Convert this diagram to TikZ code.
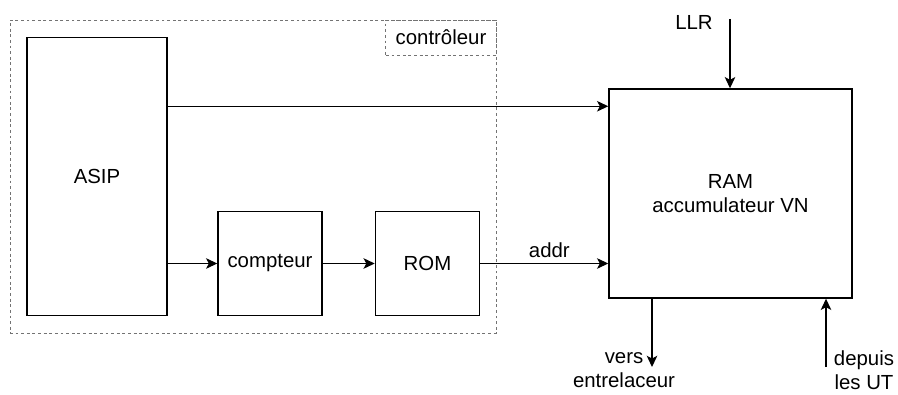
\documentclass[tikz,border=0pt]{standalone}
\usepackage{fontspec}
\setmainfont{Liberation Sans}
\usetikzlibrary{positioning, arrows.meta, calc, fit}

\begin{document}
\begin{tikzpicture}[x=0.025cm, y=-0.025cm, font=\fontsize{14.5}{17}\selectfont,
  bloc/.style={draw, line width=1pt, inner sep=0pt, align=center},
  cadre/.style={draw=black!55, dash pattern=on 2pt off 2pt, line width=0.7pt, inner sep=0pt},
  fleche/.style={line width=0.9pt, -{Stealth[length=8pt, width=7.5pt, inset=2pt]}}]
\useasboundingbox (0,0) rectangle (898,394);
% controleur
\coordinate (ctrlNO) at (10,20);
\coordinate (ctrlSE) at (496,333);
\node[cadre, fit=(ctrlNO)(ctrlSE)] (ctrl) {};
\node[cadre, anchor=north east, minimum width=2.75cm, minimum height=0.875cm] (ctrlnom) at (ctrl.north east) {contrôleur};
% blocs
\node[bloc, minimum width=3.5cm, minimum height=6.95cm] (asip) at (97,176.5) {ASIP};
\node[bloc, minimum width=2.6cm, minimum height=2.6cm] (compteur) at (270,263.5) {compteur};
\node[bloc, minimum width=2.6cm, minimum height=2.6cm, right=1.3cm of compteur] (rom) {ROM};
\node[bloc, minimum width=6.075cm, minimum height=5.225cm] (ram) at (730.5,193.5) {RAM\\accumulateur VN};
% liaisons
\draw[fleche] ($(asip.north east)+(0,69.5)$) coordinate (asiphaut) -- (asiphaut -| ram.west);
\draw[fleche] (asip.east |- compteur) -- (compteur);
\draw[fleche] (compteur) -- (rom);
\draw[fleche] (rom) -- (rom -| ram.west) node[pos=0.54, above] (addr) {addr};
% entrees / sorties
\node (llr) at (694,22) {LLR};
\coordinate (llrhaut) at (730,19);
\draw[fleche] (llrhaut) -- (llrhaut |- ram.north);
\coordinate (versbas) at (652,367);
\draw[fleche] (versbas |- ram.south) -- (versbas);
\node[align=center] (vers) at (624,370) {vers\\entrelaceur};
\coordinate (depuisbas) at (826,367);
\draw[fleche] (depuisbas) -- (depuisbas |- ram.south);
\node[align=center] (depuis) at (864,370) {depuis\\les UT};
\end{tikzpicture}
\end{document}
